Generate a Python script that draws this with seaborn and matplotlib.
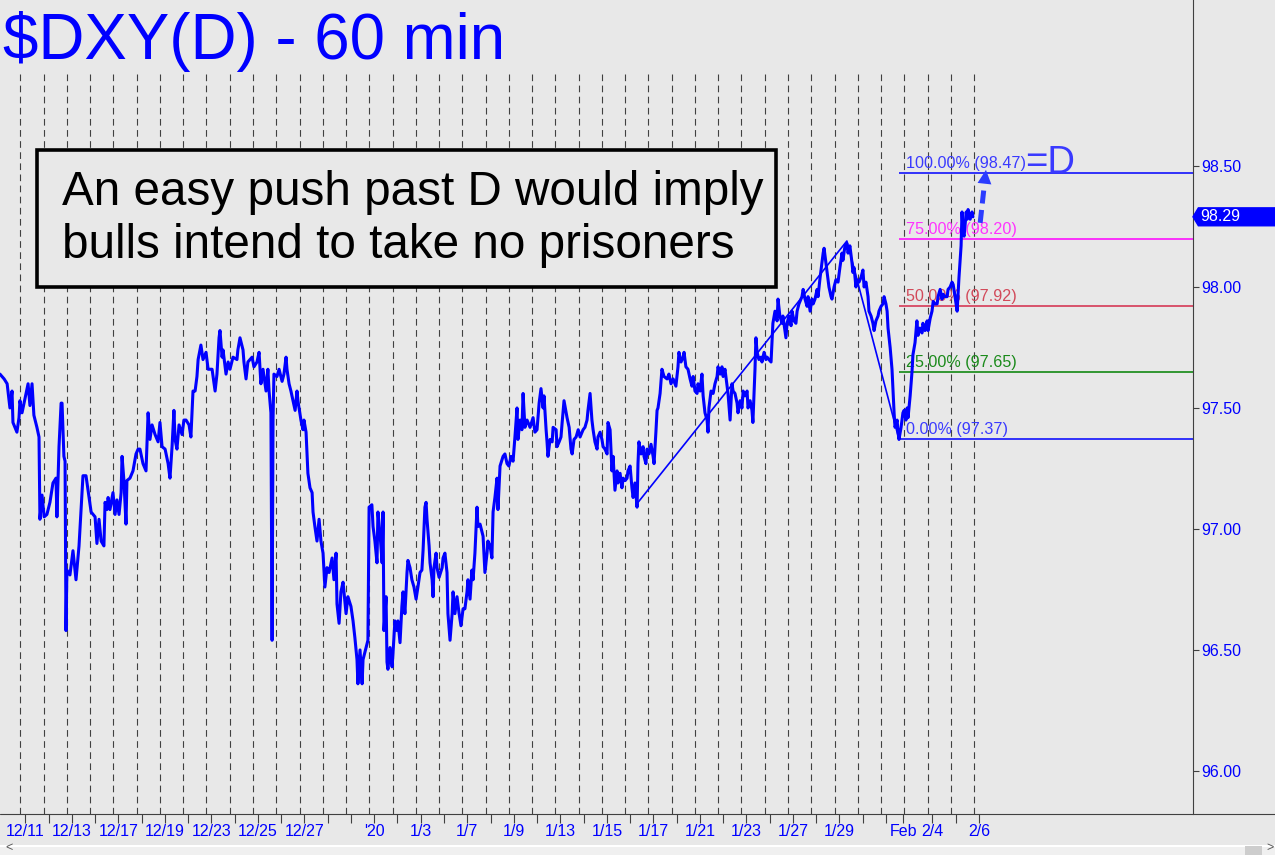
import seaborn as sns
import matplotlib.pyplot as plt
import matplotlib.transforms as mtransforms
from matplotlib.patches import Rectangle, Polygon
from matplotlib.lines import Line2D

# trading sessions on the time axis (one dashed line per session)
trading_days = ['12/11', '12/12', '12/13', '12/16', '12/17', '12/18', '12/19', '12/20',
                '12/23', '12/24', '12/25', '12/26', '12/27', '12/30', '12/31', '1/1',
                '1/2', '1/3', '1/6', '1/7', '1/8', '1/9', '1/10', '1/13', '1/14', '1/15',
                '1/16', '1/17', '1/20', '1/21', '1/22', '1/23', '1/24', '1/27', '1/28',
                '1/29', '1/30', '1/31', '2/3', '2/4', '2/5', '2/6']
day_labels = {'12/11': '12/11', '12/13': '12/13', '12/17': '12/17', '12/19': '12/19',
              '12/23': '12/23', '12/25': '12/25', '12/27': '12/27', '1/1': "'20",
              '1/3': '1/3', '1/7': '1/7', '1/9': '1/9', '1/13': '1/13', '1/15': '1/15',
              '1/17': '1/17', '1/21': '1/21', '1/23': '1/23', '1/27': '1/27',
              '1/29': '1/29', '2/3': 'Feb', '2/4': '2/4', '2/6': '2/6'}

# 60-min DXY path: session position and price
t_day = [-0.88, -0.70, -0.57, -0.45, -0.36, -0.32, -0.15, -0.06, -0.02, 0.07, 0.20, 0.33,
         0.41, 0.50, 0.58, 0.71, 0.80, 0.84, 0.93, 1.02, 1.14, 1.27, 1.40, 1.53, 1.57,
         1.66, 1.75, 1.79, 1.87, 1.92, 1.96, 2.00, 2.13, 2.26, 2.39, 2.52, 2.61, 2.69,
         2.82, 2.95, 3.04, 3.21, 3.29, 3.38, 3.47, 3.59, 3.64, 3.72, 3.77, 3.85, 3.98,
         4.07, 4.15, 4.24, 4.33, 4.37, 4.45, 4.54, 4.58, 4.71, 4.84, 4.97, 5.06, 5.14,
         5.27, 5.40, 5.49, 5.57, 5.66, 5.79, 5.92, 6.00, 6.09, 6.22, 6.35, 6.43, 6.52,
         6.60, 6.65, 6.73, 6.82, 6.95, 7.03, 7.12, 7.25, 7.33, 7.38, 7.42, 7.51, 7.59,
         7.64, 7.76, 7.85, 7.98, 8.07, 8.24, 8.37, 8.45, 8.54, 8.58, 8.67, 8.71, 8.84,
         8.93, 9.01, 9.14, 9.31, 9.35, 9.44, 9.57, 9.61, 9.70, 9.78, 9.96, 10.04, 10.17,
         10.26, 10.34, 10.43, 10.56, 10.64, 10.69, 10.77, 10.82, 10.86, 10.90, 11.03,
         11.12, 11.25, 11.33, 11.42, 11.46, 11.55, 11.63, 11.72, 11.81, 11.89, 11.93,
         12.06, 12.15, 12.19, 12.28, 12.32, 12.36, 12.45, 12.54, 12.58, 12.66, 12.75,
         12.84, 12.92, 13.01, 13.09, 13.18, 13.27, 13.40, 13.48, 13.57, 13.61, 13.70,
         13.78, 13.87, 14.00, 14.08, 14.21, 14.30, 14.38, 14.47, 14.51, 14.60, 14.69,
         14.73, 14.86, 14.94, 14.99, 15.11, 15.16, 15.24, 15.33, 15.37, 15.46, 15.55,
         15.59, 15.63, 15.72, 15.76, 15.80, 15.89, 15.98, 16.02, 16.10, 16.19, 16.23,
         16.32, 16.40, 16.45, 16.53, 16.62, 16.66, 16.75, 16.83, 16.92, 17.01, 17.09,
         17.18, 17.26, 17.31, 17.39, 17.44, 17.48, 17.57, 17.61, 17.70, 17.74, 17.78,
         17.87, 17.91, 18.00, 18.13, 18.17, 18.25, 18.34, 18.38, 18.47, 18.56, 18.60,
         18.68, 18.77, 18.86, 18.94, 19.03, 19.11, 19.20, 19.24, 19.33, 19.41, 19.46,
         19.54, 19.63, 19.67, 19.76, 19.89, 19.97, 20.06, 20.10, 20.19, 20.27, 20.32,
         20.40, 20.49, 20.53, 20.62, 20.75, 20.83, 20.92, 21.00, 21.09, 21.18, 21.26,
         21.35, 21.39, 21.48, 21.56, 21.61, 21.69, 21.78, 21.91, 22.04, 22.12, 22.21,
         22.30, 22.38, 22.47, 22.51, 22.60, 22.64, 22.68, 22.77, 22.86, 22.90, 23.03,
         23.07, 23.16, 23.24, 23.29, 23.37, 23.46, 23.50, 23.59, 23.67, 23.72, 23.80,
         23.89, 23.98, 24.06, 24.19, 24.27, 24.36, 24.40, 24.49, 24.57, 24.62, 24.70,
         24.79, 24.83, 24.92, 25.00, 25.05, 25.13, 25.22, 25.26, 25.35, 25.43, 25.48,
         25.56, 25.65, 25.69, 25.78, 25.86, 25.91, 26.00, 26.08, 26.12, 26.21, 26.29,
         26.34, 26.42, 26.51, 26.55, 26.59, 26.68, 26.77, 26.81, 26.89, 26.94, 27.02,
         27.11, 27.20, 27.24, 27.32, 27.37, 27.41, 27.50, 27.58, 27.67, 27.80, 27.88,
         27.97, 28.06, 28.18, 28.27, 28.31, 28.40, 28.49, 28.53, 28.61, 28.70, 28.79,
         28.87, 28.92, 29.00, 29.09, 29.13, 29.22, 29.30, 29.35, 29.43, 29.52, 29.56,
         29.60, 29.69, 29.78, 29.86, 29.95, 29.99, 30.08, 30.16, 30.21, 30.29, 30.38,
         30.42, 30.51, 30.59, 30.64, 30.72, 30.81, 30.85, 30.94, 31.02, 31.07, 31.15,
         31.24, 31.28, 31.37, 31.45, 31.49, 31.54, 31.58, 31.62, 31.67, 31.75, 31.84,
         31.88, 31.97, 32.05, 32.10, 32.18, 32.27, 32.31, 32.35, 32.44, 32.53, 32.57,
         32.65, 32.74, 32.78, 32.91, 32.96, 33.04, 33.13, 33.17, 33.26, 33.34, 33.39,
         33.47, 33.56, 33.60, 33.65, 33.73, 33.82, 33.86, 33.95, 34.03, 34.08, 34.16,
         34.25, 34.29, 34.38, 34.46, 34.51, 34.55, 34.63, 34.72, 34.76, 34.85, 34.89,
         34.98, 35.06, 35.15, 35.23, 35.32, 35.36, 35.45, 35.53, 35.58, 35.66, 35.75,
         35.79, 35.84, 35.92, 35.96, 36.05, 36.14, 36.22, 36.27, 36.35, 36.44, 36.48,
         36.57, 36.65, 36.70, 36.78, 36.87, 36.91, 37.00, 37.08, 37.13, 37.21, 37.26,
         37.30, 37.39, 37.47, 37.52, 37.56, 37.60, 37.69, 37.73, 37.77, 37.86, 37.94,
         37.99, 38.07, 38.12, 38.16, 38.25, 38.33, 38.37, 38.46, 38.54, 38.59, 38.67,
         38.76, 38.80, 38.89, 38.98, 39.02, 39.11, 39.19, 39.24, 39.32, 39.41, 39.45,
         39.54, 39.62, 39.67, 39.75, 39.84, 39.88, 39.97, 40.05, 40.10, 40.18, 40.27,
         40.31, 40.35, 40.40, 40.44, 40.48, 40.53, 40.57, 40.66, 40.70, 40.74, 40.83,
         40.91, 40.95]
dxy = [97.64, 97.62, 97.60, 97.50, 97.57, 97.44, 97.40, 97.46, 97.53, 97.48, 97.54, 97.60,
       97.51, 97.60, 97.47, 97.42, 97.38, 97.04, 97.14, 97.05, 97.06, 97.11, 97.19, 97.21,
       97.05, 97.34, 97.52, 97.52, 97.30, 97.28, 96.58, 96.83, 96.81, 96.91, 96.79, 96.93,
       97.08, 97.22, 97.22, 97.13, 97.07, 97.05, 96.94, 97.04, 96.95, 96.93, 97.11, 97.08,
       97.13, 97.08, 97.15, 97.06, 97.12, 97.06, 97.15, 97.30, 97.20, 97.02, 97.20, 97.21,
       97.24, 97.31, 97.33, 97.33, 97.27, 97.24, 97.48, 97.37, 97.43, 97.39, 97.36, 97.44,
       97.34, 97.33, 97.27, 97.21, 97.34, 97.49, 97.37, 97.33, 97.43, 97.39, 97.45, 97.45,
       97.43, 97.38, 97.49, 97.57, 97.57, 97.63, 97.70, 97.76, 97.70, 97.73, 97.66, 97.66,
       97.57, 97.64, 97.79, 97.82, 97.71, 97.74, 97.64, 97.69, 97.66, 97.71, 97.70, 97.74,
       97.79, 97.74, 97.69, 97.62, 97.69, 97.71, 97.67, 97.69, 97.73, 97.60, 97.66, 97.57,
       97.66, 97.57, 97.48, 96.54, 97.45, 97.64, 97.63, 97.66, 97.61, 97.64, 97.71, 97.66,
       97.60, 97.57, 97.53, 97.49, 97.57, 97.53, 97.45, 97.41, 97.45, 97.40, 97.31, 97.23,
       97.17, 97.15, 97.07, 97.01, 96.95, 97.04, 96.95, 96.90, 96.76, 96.84, 96.82, 96.88,
       96.79, 96.90, 96.69, 96.61, 96.74, 96.78, 96.65, 96.72, 96.68, 96.62, 96.55, 96.46,
       96.36, 96.50, 96.36, 96.46, 96.51, 96.54, 97.09, 97.10, 97.01, 96.95, 96.86, 97.07,
       96.98, 96.86, 97.07, 96.58, 96.72, 96.45, 96.42, 96.51, 96.43, 96.49, 96.62, 96.58,
       96.62, 96.53, 96.68, 96.74, 96.65, 96.82, 96.87, 96.84, 96.79, 96.76, 96.71, 96.76,
       96.82, 96.83, 96.91, 97.09, 97.11, 97.04, 96.93, 96.86, 96.79, 96.72, 96.84, 96.90,
       96.84, 96.80, 96.84, 96.88, 96.90, 96.82, 96.65, 96.54, 96.65, 96.74, 96.65, 96.72,
       96.65, 96.60, 96.67, 96.67, 96.74, 96.79, 96.71, 96.83, 96.79, 96.90, 97.09, 97.01,
       97.02, 96.97, 96.82, 96.90, 96.95, 96.93, 96.88, 97.07, 97.13, 97.21, 97.08, 97.26,
       97.30, 97.31, 97.27, 97.26, 97.30, 97.28, 97.38, 97.50, 97.37, 97.45, 97.41, 97.56,
       97.42, 97.45, 97.42, 97.46, 97.40, 97.41, 97.52, 97.58, 97.50, 97.55, 97.41, 97.36,
       97.30, 97.37, 97.36, 97.42, 97.41, 97.34, 97.36, 97.38, 97.44, 97.53, 97.48, 97.46,
       97.42, 97.33, 97.31, 97.37, 97.38, 97.41, 97.38, 97.41, 97.42, 97.45, 97.49, 97.56,
       97.45, 97.41, 97.36, 97.33, 97.38, 97.40, 97.37, 97.34, 97.33, 97.31, 97.44, 97.41,
       97.24, 97.30, 97.16, 97.24, 97.19, 97.23, 97.17, 97.21, 97.20, 97.21, 97.24, 97.26,
       97.17, 97.13, 97.19, 97.09, 97.27, 97.36, 97.31, 97.34, 97.30, 97.27, 97.33, 97.31,
       97.35, 97.30, 97.27, 97.40, 97.49, 97.50, 97.56, 97.66, 97.63, 97.62, 97.64, 97.60,
       97.62, 97.59, 97.67, 97.73, 97.69, 97.71, 97.73, 97.67, 97.66, 97.62, 97.59, 97.63,
       97.57, 97.56, 97.60, 97.57, 97.64, 97.55, 97.48, 97.45, 97.40, 97.50, 97.57, 97.56,
       97.60, 97.63, 97.67, 97.64, 97.67, 97.63, 97.66, 97.59, 97.56, 97.45, 97.60, 97.57,
       97.56, 97.52, 97.48, 97.53, 97.50, 97.57, 97.55, 97.57, 97.50, 97.53, 97.49, 97.44,
       97.56, 97.66, 97.79, 97.73, 97.70, 97.71, 97.69, 97.73, 97.70, 97.71, 97.70, 97.69,
       97.77, 97.85, 97.90, 97.86, 97.95, 97.88, 97.85, 97.88, 97.79, 97.85, 97.88, 97.84,
       97.90, 97.86, 97.85, 97.90, 97.93, 97.95, 97.96, 97.99, 97.95, 97.92, 97.96, 97.90,
       97.95, 97.93, 97.95, 97.99, 97.96, 98.04, 98.10, 98.14, 98.16, 98.10, 98.03, 98.00,
       97.96, 97.95, 98.00, 98.03, 98.02, 98.08, 98.14, 98.11, 98.17, 98.18, 98.14, 98.17,
       98.10, 98.06, 98.08, 98.00, 98.03, 98.02, 98.04, 98.07, 98.00, 98.02, 97.96, 97.90,
       97.88, 97.85, 97.82, 97.86, 97.88, 97.90, 97.92, 97.93, 97.96, 97.93, 97.90, 97.83,
       97.75, 97.66, 97.56, 97.48, 97.42, 97.45, 97.40, 97.37, 97.42, 97.48, 97.49, 97.45,
       97.50, 97.46, 97.55, 97.65, 97.72, 97.77, 97.86, 97.80, 97.83, 97.81, 97.85, 97.82,
       97.86, 97.82, 97.87, 97.90, 97.94, 97.93, 97.93, 97.96, 97.99, 97.95, 97.97, 97.96,
       97.96, 97.99, 98.00, 98.02, 98.01, 97.96, 97.90, 97.97, 98.04, 98.11, 98.17, 98.31,
       98.22, 98.21, 98.31, 98.28, 98.32, 98.28, 98.31, 98.29]

# A-B-C swing behind the D projection
abc_t = [26.47, 35.53, 37.77]
abc_px = [97.10, 98.19, 97.37]

fib_pct = ['100.00%', '75.00%', '50.00%', '25.00%', '0.00%']
fib_px = [98.47, 98.20, 97.92, 97.65, 97.37]
fib_line_colors = ['#0000ff', '#ff00ff', '#d42a4a', '#008000', '#0000ff']
fib_text_colors = ['#3a3aff', '#ff33ff', '#d24a5a', '#1a8a1a', '#3a3aff']

y_ticks = [96.00, 96.50, 97.00, 97.50, 98.00, 98.50]

bg = '#e8e8e8'
axis_col = '#404040'

sns.set_style('white', {'axes.facecolor': bg, 'figure.facecolor': bg})
plt.rcParams['font.family'] = ['Liberation Sans', 'DejaVu Sans']

fig = plt.figure(figsize=(12.75, 8.55), dpi=100)
ax = fig.add_axes([0, 41 / 855, 1193 / 1275, 814 / 855])
ax.set_facecolor(bg)

# session separators
for i in range(len(trading_days)):
    ax.axvline(i, ymin=0, ymax=1 - 72 / 814, color=axis_col, lw=0.8,
               ls=(0, (6, 4)), zorder=1)

# fib levels
c_t = abc_t[2]
for pct, lvl, lc, tc in zip(fib_pct, fib_px, fib_line_colors, fib_text_colors):
    ax.hlines(lvl, c_t, 60, color=lc, lw=1.1, zorder=2)
    ax.annotate(f'{pct} ({lvl:.2f})', xy=(c_t + 0.3, lvl), xytext=(0, 1.5),
                textcoords='offset points', ha='left', va='bottom',
                fontsize=11.6, color=tc, zorder=3)

# price and swing
sns.lineplot(x=t_day, y=dxy, sort=False, estimator=None, color='#0000ff',
             lw=2.2, ax=ax, legend=False, zorder=4)
sns.lineplot(x=abc_t, y=abc_px, sort=False, estimator=None, color='#0000ff',
             lw=1.2, ax=ax, legend=False, zorder=4)

# D marker and dashed projection arrow
ax.text(43.2, fib_px[0], '=D', color='#3a3aff', fontsize=27.5, ha='left',
        va='baseline', zorder=5)
tail = (41.26, 98.265)
tip = (41.51, 98.484)
base = (tail[0] + 0.72 * (tip[0] - tail[0]), tail[1] + 0.72 * (tip[1] - tail[1]))
ax.plot([tail[0], base[0]], [tail[1], base[1]], color='#2b3cff', lw=3.6,
        dashes=(2.6, 1.3), solid_capstyle='butt', zorder=5)
ax.annotate('', xy=tip, xytext=base,
            arrowprops=dict(arrowstyle='-|>,head_length=1.0,head_width=0.5',
                            mutation_scale=10, color='#2b3cff', lw=0,
                            shrinkA=0, shrinkB=0), zorder=5)

ax.set_xlim(-0.877, 50.41)
ax.set_ylim(95.822, 99.186)

# the month label sits on the session line, the rest just right of it
tick_pos = [i - 0.05 if d == '2/3' else i + 0.21
            for i, d in enumerate(trading_days)]

ax.yaxis.tick_right()
ax.set_yticks(y_ticks)
ax.set_yticklabels([f'{v:.2f}' for v in y_ticks])
ax.set_xticks(tick_pos)
ax.set_xticklabels([day_labels.get(d, '') for d in trading_days])
ax.tick_params(axis='y', right=True, length=4, width=0.8, color=axis_col,
               labelcolor='#0000ff', labelsize=11.5, pad=2)
ax.tick_params(axis='x', bottom=True, length=6.5, width=0.8, color=axis_col,
               labelcolor='#0000ff', labelsize=11.5, pad=0.5)
for side in ['left', 'top']:
    ax.spines[side].set_visible(False)
ax.spines['right'].set_color(axis_col)
ax.spines['right'].set_linewidth(0.8)
ax.spines['bottom'].set_visible(False)
fig.add_artist(Line2D([0, 1], [41 / 855, 41 / 855], color=axis_col, lw=0.8))

# last price tag
tr = mtransforms.blended_transform_factory(ax.transAxes, ax.transData)
last = dxy[-1]
h = 0.037
tag = Polygon([(1.0, last), (1.0045, last + h), (1.08, last + h),
               (1.08, last - h), (1.0045, last - h)], closed=True,
              transform=tr, clip_on=False, color='#0000ff', zorder=6)
ax.add_patch(tag)
ax.text(1.006, last, f'{last:.2f}', transform=tr, color='white', fontsize=11.5,
        va='center', ha='left', clip_on=False, zorder=7)

# title
fig.text(3 / 1275, 1 - 59.5 / 855, '$DXY(D) - 60 min', color='#0000ff',
         fontsize=45.8, ha='left', va='baseline')

# comment box
fig.add_artist(Rectangle((37 / 1275, 1 - 287 / 855), 739 / 1275, 137 / 855,
                         transform=fig.transFigure, facecolor=bg,
                         edgecolor='black', lw=2.6, zorder=8))
fig.text(62 / 1275, 1 - 205 / 855, 'An easy push past D would imply',
         fontsize=34.3, color='black', ha='left', va='baseline', zorder=9)
fig.text(62 / 1275, 1 - 258 / 855, 'bulls intend to take no prisoners',
         fontsize=34.3, color='black', ha='left', va='baseline', zorder=9)

# scrollbar strip
fig.add_artist(Rectangle((0, 0), 1, 9 / 855, transform=fig.transFigure,
                         facecolor='#f0f0f0', edgecolor='none', zorder=1))
fig.add_artist(Line2D([0, 1], [9.5 / 855, 9.5 / 855], color='white', lw=1.5))
fig.add_artist(Rectangle((1245 / 1275, 0), 17 / 1275, 9 / 855,
                         transform=fig.transFigure, facecolor='#cdcdcd',
                         edgecolor='none', zorder=2))
fig.text(5 / 1275, 1 / 855, '<', fontsize=9, color='#555555', ha='left', va='bottom')
fig.text(1266 / 1275, 1 / 855, '>', fontsize=9, color='#555555', ha='left', va='bottom')

fig.savefig('out.png', dpi=100, facecolor=bg)
